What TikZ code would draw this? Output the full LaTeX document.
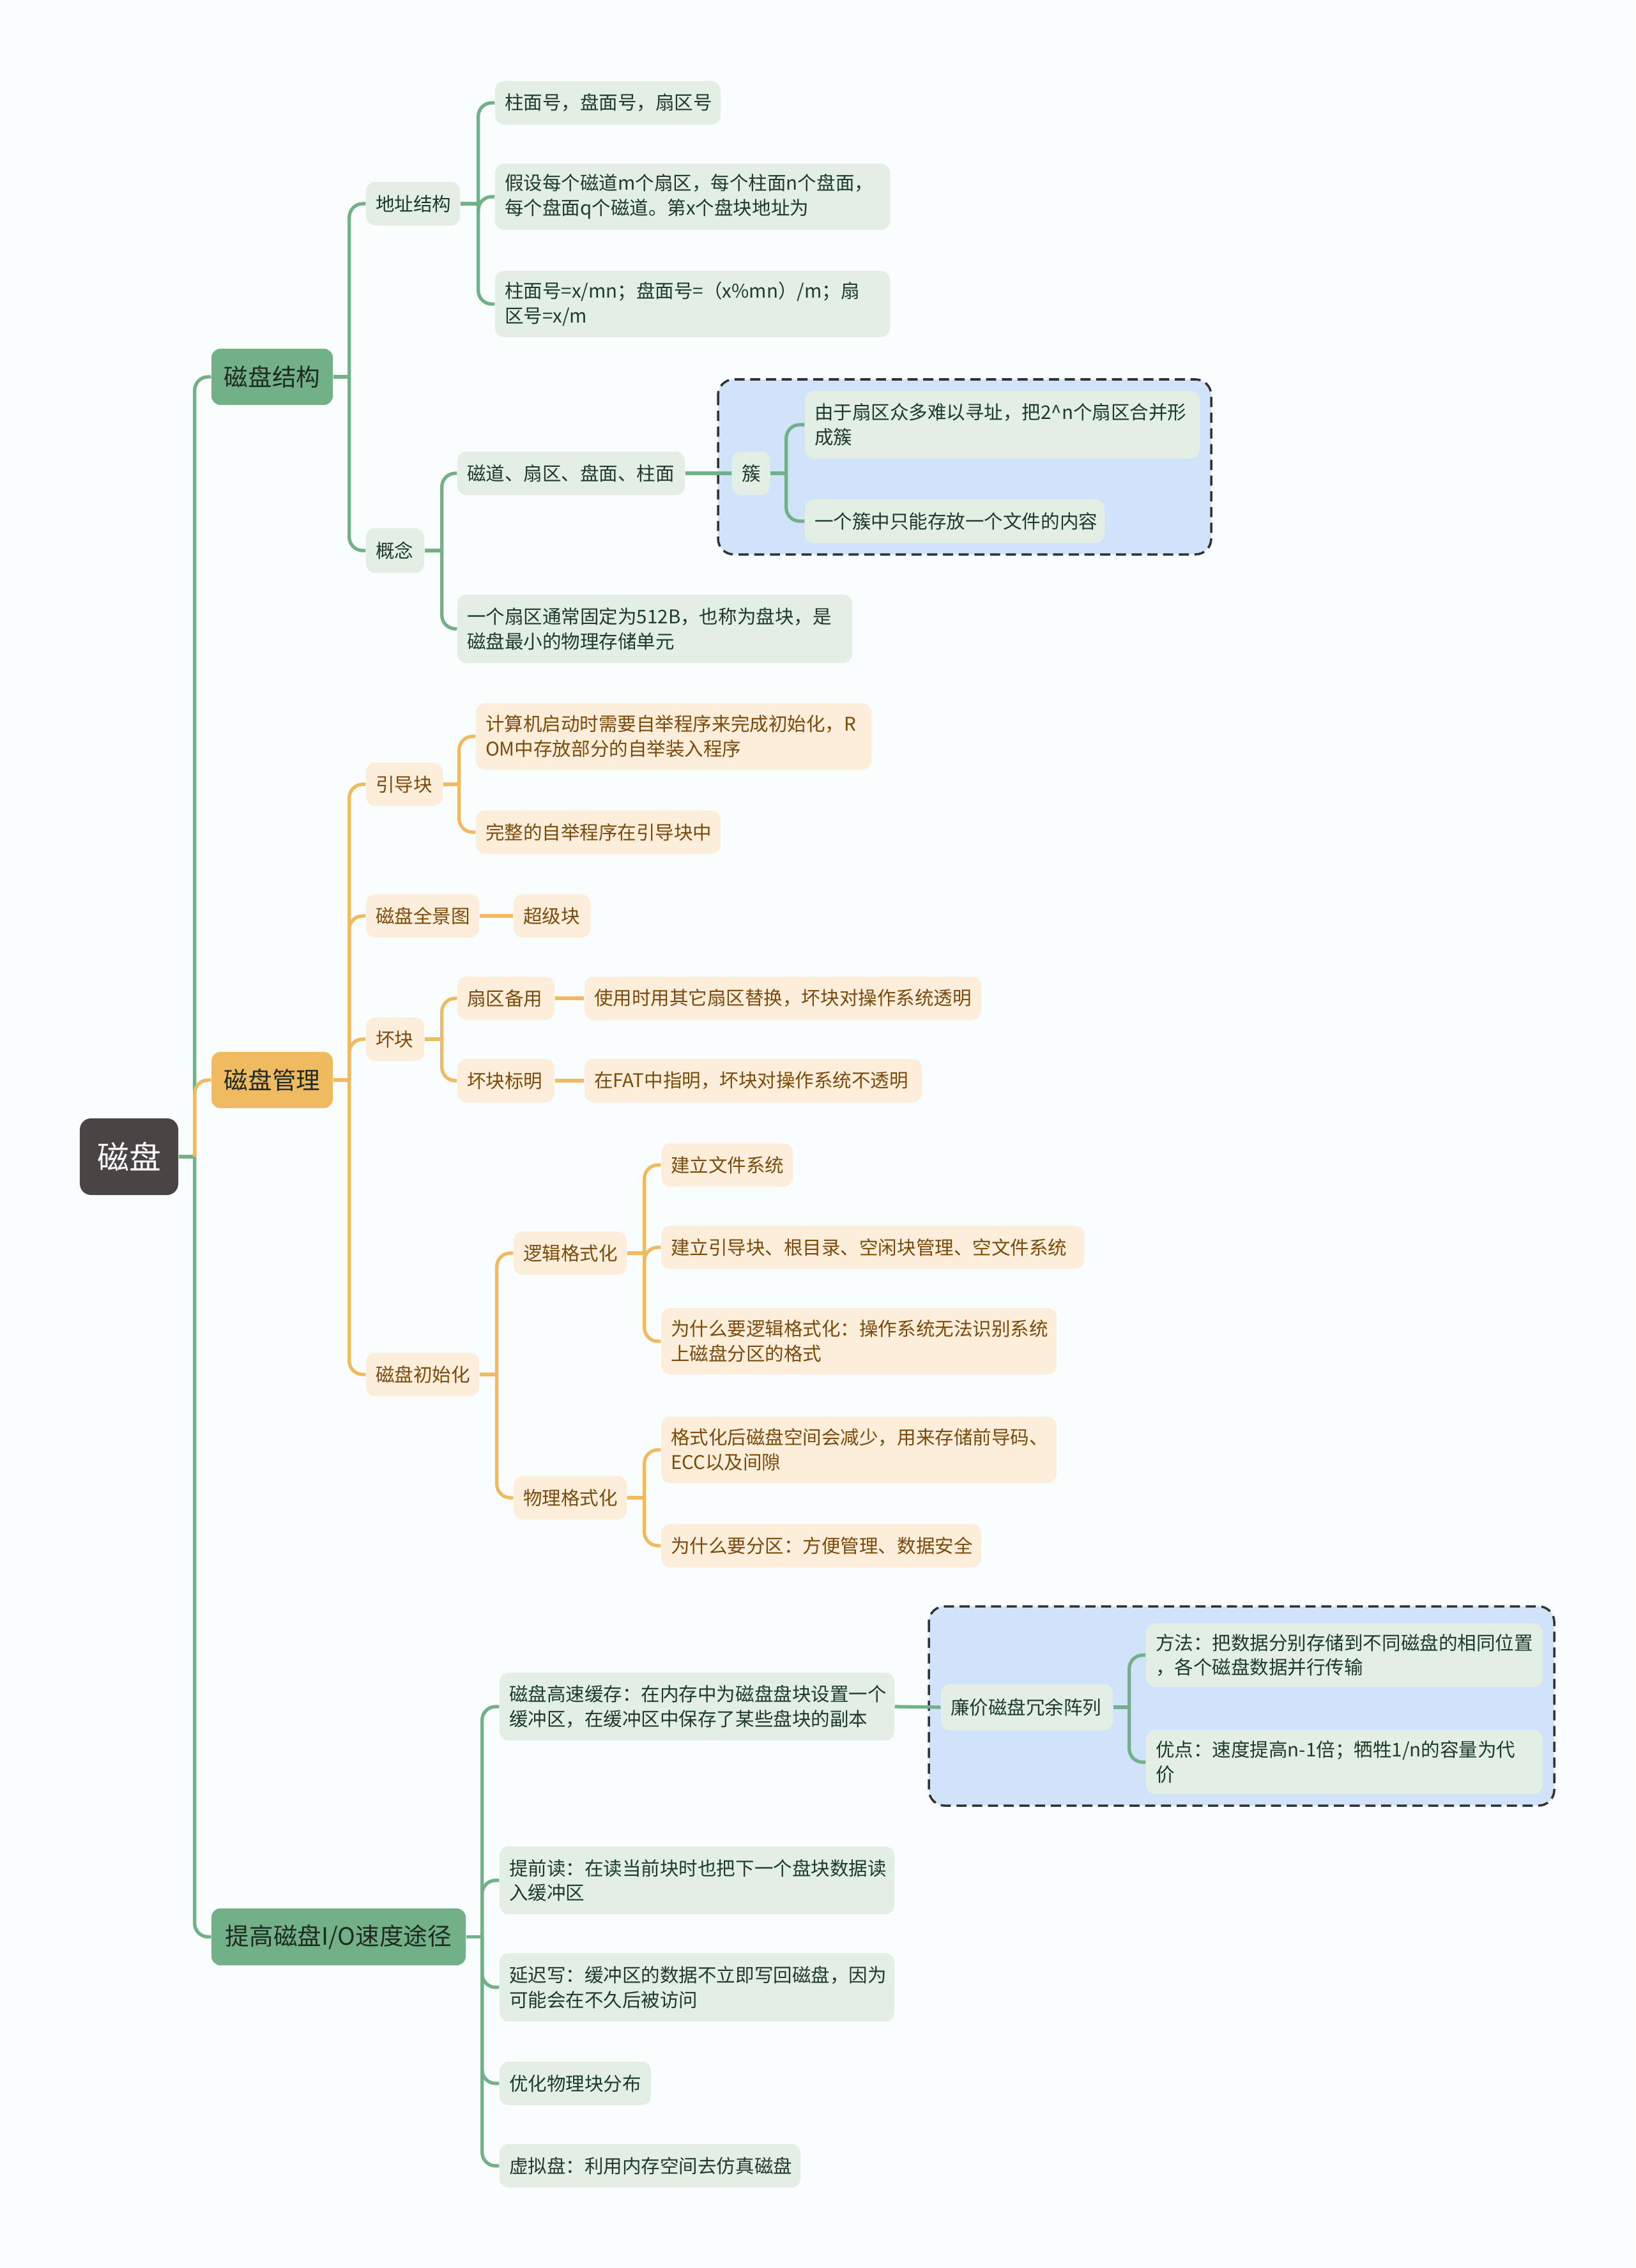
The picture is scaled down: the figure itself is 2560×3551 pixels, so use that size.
\documentclass[tikz,border=0pt]{standalone}
\usepackage{fontspec}
\setmainfont{Noto Sans CJK SC}
\definecolor{bgc}{HTML}{F9FDFD}
\definecolor{gline}{HTML}{72B088}
\definecolor{gleafc}{HTML}{E3EFE5}
\definecolor{gtext}{HTML}{1E3B28}
\definecolor{oline}{HTML}{F0BA60}
\definecolor{oleafc}{HTML}{FDEEDC}
\definecolor{otext}{HTML}{7C4A0A}
\definecolor{bluebox}{HTML}{D0E3FA}
\definecolor{rootc}{HTML}{4A4445}
\definecolor{maintext}{HTML}{1E2A22}
\tikzset{
  base/.style={rounded corners=4pt, inner xsep=0.15cm, inner ysep=2pt, align=left, anchor=center, font=\fontsize{8.4}{11}\selectfont},
  gleaf/.style={base, fill=gleafc, text=gtext},
  oleaf/.style={base, fill=oleafc, text=otext},
  gmainst/.style={base, align=center, fill=gline, text=maintext, font=\fontsize{10.7}{13}\selectfont},
  omainst/.style={base, align=center, fill=oline, text=maintext, font=\fontsize{10.7}{13}\selectfont},
  rootst/.style={base, align=center, rounded corners=5pt, fill=rootc, text=white, font=\fontsize{14.2}{17}\selectfont},
  glin/.style={draw=gline, line width=1.5pt},
  olin/.style={draw=oline, line width=1.5pt},
  rc/.style={rounded corners=6pt},
  dbox/.style={draw=black!80, line width=1pt, dash pattern=on 4.5pt off 2.5pt, fill=bluebox, rounded corners=7pt},
}
\newcommand{\nd}[7]{%
  \pgfmathsetmacro{\ndwid}{(#5-#3)*0.01}%
  \pgfmathsetmacro{\ndtxw}{(#5-#3)*0.01-0.30}%
  \pgfmathsetmacro{\ndhei}{(#6-#4)*0.01}%
  \node[#1, text width=\ndtxw cm, minimum width=\ndwid cm, minimum height=\ndhei cm] (#2) at ({(#3+#5)/2},{(#4+#6)/2}) {#7};}
\newcommand{\lk}[4]{%
  \draw[#1] (#2.east) -- ++(#4,0) coordinate (lkt);
  \draw[#1, rc] (lkt) |- (#3.west);}
\begin{document}
\begin{tikzpicture}[x=0.01cm, y=-0.01cm]
\path[fill=bgc] (0,0) rectangle (2560,3551);
\useasboundingbox (0,0) rectangle (2560,3551);
% dashed group boxes
\path[dbox] (1124,594) rectangle (1896,868);
\path[dbox] (1454,2515) rectangle (2433,2827);
% root and main branches
\nd{rootst}{root}{125}{1751}{279}{1871}{磁盘}
\nd{gmainst}{jg}{331}{546}{521}{634}{磁盘结构}
\nd{omainst}{gm}{331}{1647}{521}{1735}{磁盘管理}
\nd{gmainst}{ts}{331}{2988}{729}{3077}{提高磁盘I/O速度途径}
% 磁盘结构
\nd{gleaf}{dz}{573}{285}{720}{353}{地址结构}
\nd{gleaf}{gn}{573}{827}{664}{897}{概念}
\nd{gleaf}{a1}{775}{127}{1128}{195}{柱面号，盘面号，扇区号}
\nd{gleaf}{a2}{775}{256}{1393}{360}{假设每个磁道m个扇区，每个柱面n个盘面，\\每个盘面q个磁道。第x个盘块地址为}
\nd{gleaf}{a3}{775}{424}{1393}{528}{柱面号=x/mn；盘面号=（x\%mn）/m；扇\\区号=x/m}
\nd{gleaf}{c1}{716}{707}{1072}{775}{磁道、扇区、盘面、柱面}
\nd{gleaf}{c2}{716}{931}{1334}{1038}{一个扇区通常固定为512B，也称为盘块，是\\磁盘最小的物理存储单元}
\nd{gleaf}{cu}{1146}{707}{1205}{775}{簇}
\nd{gleaf}{u1}{1260}{612}{1878}{718}{由于扇区众多难以寻址，把2\textasciicircum n个扇区合并形\\成簇}
\nd{gleaf}{u2}{1260}{782}{1729}{850}{一个簇中只能存放一个文件的内容}
% 磁盘管理
\nd{oleaf}{yd}{573}{1194}{693}{1262}{引导块}
\nd{oleaf}{qj}{573}{1400}{750}{1468}{磁盘全景图}
\nd{oleaf}{hk}{573}{1593}{664}{1661}{坏块}
\nd{oleaf}{cs}{573}{2118}{750}{2186}{磁盘初始化}
\nd{oleaf}{y1}{745}{1101}{1364}{1205}{计算机启动时需要自举程序来完成初始化，R\\OM中存放部分的自举装入程序}
\nd{oleaf}{y2}{745}{1269}{1128}{1337}{完整的自举程序在引导块中}
\nd{oleaf}{cj}{804}{1400}{924}{1468}{超级块}
\nd{oleaf}{sb}{716}{1529}{868}{1597}{扇区备用}
\nd{oleaf}{hb}{716}{1658}{868}{1726}{坏块标明}
\nd{oleaf}{s1}{915}{1529}{1536}{1597}{使用时用其它扇区替换，坏块对操作系统透明}
\nd{oleaf}{h1}{915}{1658}{1443}{1726}{在FAT中指明，坏块对操作系统不透明}
\nd{oleaf}{lj}{804}{1928}{981}{1996}{逻辑格式化}
\nd{oleaf}{wl}{804}{2311}{981}{2379}{物理格式化}
\nd{oleaf}{l1}{1035}{1790}{1241}{1858}{建立文件系统}
\nd{oleaf}{l2}{1035}{1919}{1697}{1987}{建立引导块、根目录、空闲块管理、空文件系统}
\nd{oleaf}{l3}{1035}{2048}{1654}{2152}{为什么要逻辑格式化：操作系统无法识别系统\\上磁盘分区的格式}
\nd{oleaf}{w1}{1035}{2218}{1654}{2322}{格式化后磁盘空间会减少，用来存储前导码、\\ECC以及间隙}
\nd{oleaf}{w2}{1035}{2386}{1536}{2454}{为什么要分区：方便管理、数据安全}
% 提高磁盘I/O速度途径
\nd{gleaf}{t1}{782}{2619}{1400}{2725}{磁盘高速缓存：在内存中为磁盘盘块设置一个\\缓冲区，在缓冲区中保存了某些盘块的副本}
\nd{gleaf}{t2}{782}{2891}{1400}{2997}{提前读：在读当前块时也把下一个盘块数据读\\入缓冲区}
\nd{gleaf}{t3}{782}{3058}{1400}{3165}{延迟写：缓冲区的数据不立即写回磁盘，因为\\可能会在不久后被访问}
\nd{gleaf}{t4}{782}{3228}{1019}{3296}{优化物理块分布}
\nd{gleaf}{t5}{782}{3357}{1253}{3425}{虚拟盘：利用内存空间去仿真磁盘}
\nd{gleaf}{lc}{1473}{2637}{1742}{2709}{廉价磁盘冗余阵列}
\nd{gleaf}{r1}{1794}{2542}{2415}{2641}{方法：把数据分别存储到不同磁盘的相同位置\\，各个磁盘数据并行传输}
\nd{gleaf}{r2}{1794}{2709}{2415}{2809}{优点：速度提高n-1倍；牺牲1/n的容量为代\\价}
% connectors: root
\draw[glin] (root.east) -- ++(25,0) coordinate (rt);
\draw[glin, rc] (rt) |- (jg.west);
\draw[glin, rc] (rt) |- (ts.west);
\draw[olin, rc] (rt) |- (gm.west);
% 磁盘结构
\lk{glin}{jg}{dz}{25}
\lk{glin}{jg}{gn}{25}
\lk{glin}{dz}{a1}{28}
\lk{glin}{dz}{a2}{28}
\lk{glin}{dz}{a3}{28}
\lk{glin}{gn}{c1}{27}
\lk{glin}{gn}{c2}{27}
\draw[glin] (c1.east) -- (cu.west);
\lk{glin}{cu}{u1}{25}
\lk{glin}{cu}{u2}{25}
% 磁盘管理
\lk{olin}{gm}{yd}{25}
\lk{olin}{gm}{qj}{25}
\lk{olin}{gm}{hk}{25}
\lk{olin}{gm}{cs}{25}
\lk{olin}{yd}{y1}{25}
\lk{olin}{yd}{y2}{25}
\draw[olin] (qj.east) -- (cj.west);
\lk{olin}{hk}{sb}{27}
\lk{olin}{hk}{hb}{27}
\draw[olin] (sb.east) -- (s1.west);
\draw[olin] (hb.east) -- (h1.west);
\lk{olin}{cs}{lj}{27}
\lk{olin}{cs}{wl}{27}
\lk{olin}{lj}{l1}{27}
\lk{olin}{lj}{l2}{27}
\lk{olin}{lj}{l3}{27}
\lk{olin}{wl}{w1}{27}
\lk{olin}{wl}{w2}{27}
% 提高
\lk{glin}{ts}{t1}{25}
\lk{glin}{ts}{t2}{25}
\lk{glin}{ts}{t3}{25}
\lk{glin}{ts}{t4}{25}
\lk{glin}{ts}{t5}{25}
\draw[glin] (t1.east) -- (lc.west);
\lk{glin}{lc}{r1}{25}
\lk{glin}{lc}{r2}{25}
\end{tikzpicture}
\end{document}
